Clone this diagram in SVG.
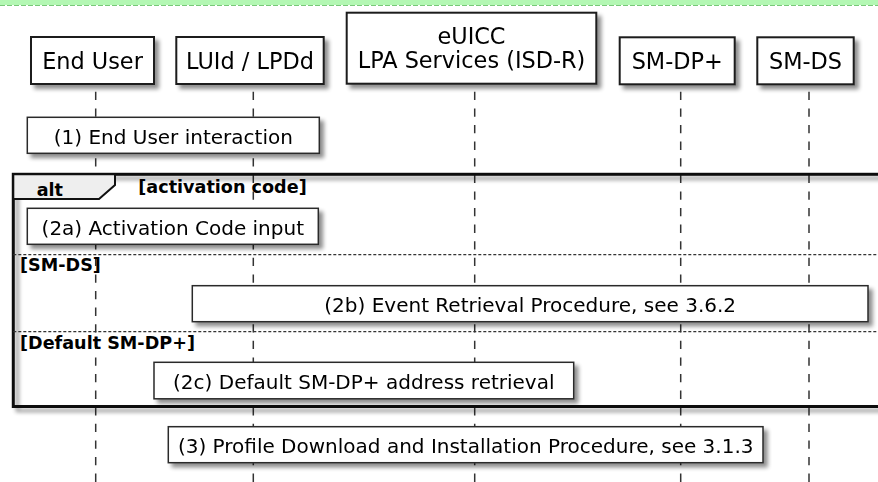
<svg xmlns="http://www.w3.org/2000/svg" width="878" height="482" viewBox="0 0 878 482">
<defs>
<filter id="sh" x="-5%" y="-20%" width="115%" height="160%">
<feGaussianBlur in="SourceAlpha" stdDeviation="2"/>
<feOffset dx="4" dy="4" result="b"/>
<feComponentTransfer><feFuncA type="linear" slope="0.45"/></feComponentTransfer>
<feMerge><feMergeNode/><feMergeNode in="SourceGraphic"/></feMerge>
</filter>
</defs>
<style>
.part{fill:#fff;stroke:#1a1a1a;stroke-width:2}
.ptxt{font-family:"DejaVu Sans",sans-serif;font-size:22.4px;fill:#000;text-anchor:middle}
.note{fill:#fff;stroke:#2a2a2a;stroke-width:1.5}
.ntxt{font-family:"DejaVu Sans",sans-serif;font-size:20px;fill:#000;text-anchor:middle}
.life{stroke:#333;stroke-width:1.5;stroke-dasharray:8.3 8.3;fill:none}
.gtxt{font-family:"DejaVu Sans",sans-serif;font-size:17.6px;font-weight:bold;fill:#000}
.sep{stroke:#333;stroke-width:1.2;stroke-dasharray:3 2;fill:none}
</style>
<rect x="0" y="0" width="878" height="5" fill="#b3f7b3"/>
<line x1="0" y1="5.5" x2="878" y2="5.5" stroke="#78c878" stroke-width="1.2" stroke-dasharray="5 2"/>

<g id="lifelines">
<line class="life" x1="95.7" y1="91.8" x2="95.7" y2="482"/>
<line class="life" x1="253.3" y1="91.8" x2="253.3" y2="482"/>
<line class="life" x1="474.7" y1="91.8" x2="474.7" y2="482"/>
<line class="life" x1="680.7" y1="91.8" x2="680.7" y2="482"/>
<line class="life" x1="809" y1="91.8" x2="809" y2="482"/>
</g>

<g id="p-enduser" filter="url(#sh)">
<rect class="part" x="31" y="37" width="123" height="47"/>
<text class="ptxt" x="92.5" y="68.5">End User</text>
</g>
<g id="p-luid" filter="url(#sh)">
<rect class="part" x="176.3" y="37" width="147.4" height="47"/>
<text class="ptxt" x="250" y="68.5">LUId / LPDd</text>
</g>
<g id="p-euicc" filter="url(#sh)">
<rect class="part" x="346.7" y="12.7" width="249.6" height="71"/>
<text class="ptxt" x="471.5" y="43.5">eUICC</text>
<text class="ptxt" x="471.5" y="67.8">LPA Services (ISD-R)</text>
</g>
<g id="p-smdp" filter="url(#sh)">
<rect class="part" x="619.7" y="37.3" width="115" height="47"/>
<text class="ptxt" x="677.2" y="68.7">SM-DP+</text>
</g>
<g id="p-smds" filter="url(#sh)">
<rect class="part" x="757.3" y="37.3" width="96.4" height="47"/>
<text class="ptxt" x="805.5" y="68.7">SM-DS</text>
</g>

<g id="n1" filter="url(#sh)">
<rect class="note" x="27.3" y="117.3" width="292" height="36"/>
<text class="ntxt" x="173.3" y="143.5">(1) End User interaction</text>
</g>

<g id="alt-frame">
<rect x="13.3" y="174.3" width="880" height="232.2" fill="none" stroke="#111" stroke-width="3" filter="url(#sh)"/>
<polygon points="13.3,174.3 115,174.3 115,185 99,199 13.3,199" fill="#eeeeee" stroke="#111" stroke-width="2"/>
<text class="gtxt" x="36.7" y="195.5">alt</text>
<text class="gtxt" x="138.3" y="193">[activation code]</text>
<line class="sep" x1="13.3" y1="254.7" x2="878" y2="254.7"/>
<text class="gtxt" x="20" y="270.5">[SM-DS]</text>
<line class="sep" x1="13.3" y1="331.7" x2="878" y2="331.7"/>
<text class="gtxt" x="20" y="349">[Default SM-DP+]</text>
</g>

<g id="n2a" filter="url(#sh)">
<rect class="note" x="27.3" y="208.3" width="291" height="36"/>
<text class="ntxt" x="172.8" y="234.5">(2a) Activation Code input</text>
</g>
<g id="n2b" filter="url(#sh)">
<rect class="note" x="192.3" y="285.7" width="675.7" height="36"/>
<text class="ntxt" x="530.2" y="312">(2b) Event Retrieval Procedure, see 3.6.2</text>
</g>
<g id="n2c" filter="url(#sh)">
<rect class="note" x="154" y="362.3" width="419.7" height="36.5"/>
<text class="ntxt" x="363.8" y="388.5">(2c) Default SM-DP+ address retrieval</text>
</g>
<g id="n3" filter="url(#sh)">
<rect class="note" x="168.3" y="426.7" width="594.7" height="36"/>
<text class="ntxt" x="465.7" y="452.7">(3) Profile Download and Installation Procedure, see 3.1.3</text>
</g>
</svg>
